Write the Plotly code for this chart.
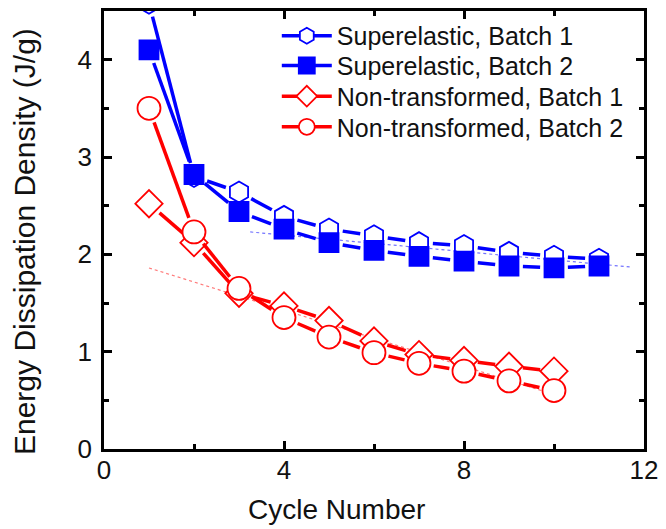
import math
import plotly.graph_objects as go

# Cycle numbers and energy dissipation density (J/g)
cycles_se = [1, 2, 3, 4, 5, 6, 7, 8, 9, 10, 11]
se_batch1 = [4.58, 2.80, 2.64, 2.39, 2.26, 2.19, 2.12, 2.09, 2.02, 1.98, 1.95]
se_batch2 = [4.10, 2.82, 2.44, 2.26, 2.12, 2.04, 1.98, 1.93, 1.88, 1.86, 1.88]

cycles_nt = [1, 2, 3, 4, 5, 6, 7, 8, 9, 10]
nt_batch1 = [2.52, 2.12, 1.60, 1.47, 1.32, 1.11, 0.97, 0.91, 0.85, 0.80]
nt_batch2 = [3.50, 2.23, 1.65, 1.35, 1.15, 0.99, 0.88, 0.80, 0.70, 0.60]

# Linear trend lines (end points)
fit_se_x = [3.25, 11.7]
fit_se_y = [2.23, 1.87]
fit_nt_x = [1.0, 10.0]
fit_nt_y = [1.86, 0.56]

x_ticks = [0, 4, 8, 12]
y_ticks = [0, 1, 2, 3, 4]

X_RANGE = [0, 12]
Y_RANGE = [0, 4.5]

BLUE = "#0000FF"
RED = "#FF0000"
FONT = "Arial, Liberation Sans, sans-serif"
INK = "#111"

W, H = 666, 529
ML, MR, MT, MB = 104, 18, 8, 80
PW, PH = W - ML - MR, H - MT - MB
SX = PW / (X_RANGE[1] - X_RANGE[0])
SY = PH / (Y_RANGE[1] - Y_RANGE[0])


def gapped(xs, ys, gap):
    """Connecting segments that stop short of each marker by `gap` pixels."""
    gx, gy = [], []
    for (x1, y1), (x2, y2) in zip(zip(xs, ys), zip(xs[1:], ys[1:])):
        dx, dy = (x2 - x1) * SX, (y2 - y1) * SY
        length = math.hypot(dx, dy)
        if length <= 2 * gap:
            continue
        f0, f1 = gap / length, 1 - gap / length
        gx += [x1 + (x2 - x1) * f0, x1 + (x2 - x1) * f1, None]
        gy += [y1 + (y2 - y1) * f0, y1 + (y2 - y1) * f1, None]
    return gx, gy


series = [
    ("Superelastic, Batch 1", cycles_se, se_batch1, BLUE, "hexagon", 21, "white", 14),
    ("Superelastic, Batch 2", cycles_se, se_batch2, BLUE, "square", 19, BLUE, 14),
    ("Non-transformed, Batch 1", cycles_nt, nt_batch1, RED, "diamond", 21, "white", 14),
    ("Non-transformed, Batch 2", cycles_nt, nt_batch2, RED, "circle", 23, "white", 15),
]
legend_ids = ["legend", "legend2", "legend3", "legend4"]
legend_rows = [0.943, 0.875, 0.805, 0.735]

fig = go.Figure()

# thin dotted trend lines
fig.add_trace(go.Scatter(x=fit_se_x, y=fit_se_y, mode="lines", showlegend=False,
                         line=dict(color="rgba(80,80,255,0.8)", width=1.2, dash="3px,3px")))
fig.add_trace(go.Scatter(x=fit_nt_x, y=fit_nt_y, mode="lines", showlegend=False,
                         line=dict(color="rgba(255,90,90,0.8)", width=1.2, dash="3px,3px")))

for (name, xs, ys, color, symbol, size, fill, gap), lg in zip(series, legend_ids):
    gx, gy = gapped(xs, ys, gap)
    fig.add_trace(go.Scatter(x=gx, y=gy, mode="lines", showlegend=False,
                             line=dict(color=color, width=3.5)))
    fig.add_trace(go.Scatter(
        x=xs, y=ys, mode="markers", name=name, showlegend=False,
        marker=dict(symbol=symbol, size=size, color=fill,
                    line=dict(color=color, width=1.8)),
    ))
    # legend entry
    fig.add_trace(go.Scatter(
        x=[None], y=[None], mode="lines+markers", name=name, legend=lg,
        line=dict(color=color, width=3.5),
        marker=dict(symbol=symbol, size=size, color=fill,
                    line=dict(color=color, width=1.8)),
    ))

axis_common = dict(
    showline=True, linecolor="black", linewidth=2.5, mirror="allticks",
    ticks="inside", ticklen=8, tickwidth=2.5, tickcolor="black",
    showgrid=False, zeroline=False,
    tickfont=dict(family=FONT, size=26, color=INK),
)

fig.update_xaxes(
    range=X_RANGE, tickvals=x_ticks, ticktext=[str(v) for v in x_ticks],
    minor=dict(ticks="inside", ticklen=5, tickwidth=2.5, tickcolor="black", dtick=2, showgrid=False),
    ticklabelstandoff=-4,
    **axis_common,
)
fig.update_yaxes(
    range=Y_RANGE, tickvals=y_ticks, ticktext=[str(v) for v in y_ticks],
    minor=dict(ticks="inside", ticklen=5, tickwidth=2.5, tickcolor="black", dtick=0.5, showgrid=False),
    ticklabelstandoff=4,
    **axis_common,
)

fig.add_annotation(
    text="Cycle Number", xref="paper", yref="paper", x=0.43, y=-0.137,
    xanchor="center", yanchor="middle", showarrow=False,
    font=dict(family=FONT, size=28, color=INK),
)
fig.add_annotation(
    text="Energy Dissipation Density (J/g)", xref="paper", yref="paper",
    x=-0.147, y=0.474, xanchor="center", yanchor="middle", textangle=-90,
    showarrow=False, font=dict(family=FONT, size=30, color=INK),
)

legend_style = dict(
    x=0.32, xanchor="left", yanchor="middle",
    bgcolor="rgba(0,0,0,0)", borderwidth=0,
    font=dict(family=FONT, size=25, color=INK),
    itemwidth=50,
)

fig.update_layout(
    width=W, height=H,
    margin=dict(l=ML, r=MR, t=MT, b=MB),
    plot_bgcolor="white", paper_bgcolor="white",
    font=dict(family=FONT, color=INK),
    **{lg: dict(y=row, **legend_style) for lg, row in zip(legend_ids, legend_rows)},
)

fig.write_html("out.html")
